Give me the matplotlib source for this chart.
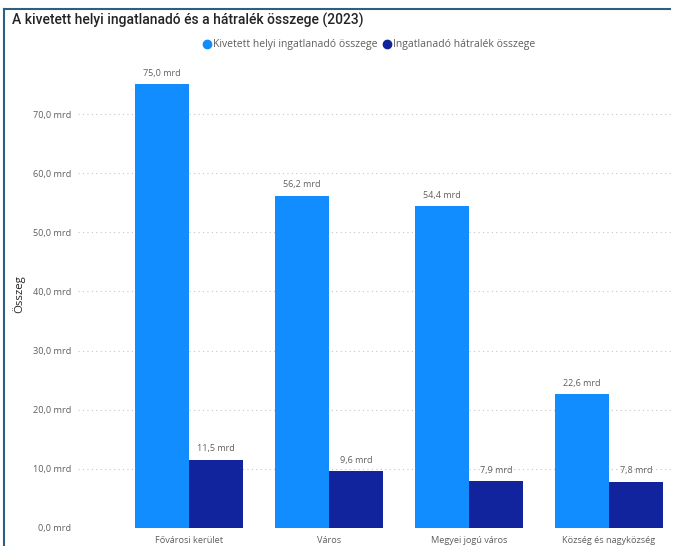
import matplotlib.pyplot as plt
import numpy as np
from matplotlib.lines import Line2D
from matplotlib.ticker import FuncFormatter

# data
categories = ["Fővárosi kerület", "Város", "Megyei jogú város", "Község és nagyközség"]
kivetett = [75.0, 56.2, 54.4, 22.6]
hatralek = [11.5, 9.6, 7.9, 7.8]
series_names = ["Kivetett helyi ingatlanadó összege", "Ingatlanadó hátralék összege"]
yticks = [0, 10, 20, 30, 40, 50, 60, 70]

c_light = "#118DFF"
c_dark = "#12239E"
gray = "#605E5C"

plt.rcParams["font.family"] = ["Open Sans", "DejaVu Sans"]

W, H = 673, 546
fig = plt.figure(figsize=(W / 100, H / 100), dpi=100)


def fx(px):
    return px / W


def fy(py):
    return 1 - py / H


# plot area: left at x=78, bottom at y=528, top at y=60
ax = fig.add_axes([fx(78), fy(528), 1 - fx(78), (528 - 60) / H])
x = np.arange(len(categories))
bw = 0.383
ax.bar(x - bw / 2, kivetett, bw, color=c_light, zorder=3)
ax.bar(x + bw / 2, hatralek, bw, color=c_dark, zorder=3)

fmt = lambda v: f"{v:.1f}".replace(".", ",") + " mrd"
for xi, v in zip(x - bw / 2, kivetett):
    ax.text(xi, v + 1.1, fmt(v), ha="center", va="bottom", fontsize=6.5, color=gray)
for xi, v in zip(x + bw / 2, hatralek):
    ax.text(xi, v + 1.1, fmt(v), ha="center", va="bottom", fontsize=6.5, color=gray)

ax.set_xlim(-0.793, 3.457)
ax.set_ylim(0, (528 - 60) / 59.14 * 10)
ax.set_yticks(yticks)
ax.yaxis.set_major_formatter(FuncFormatter(lambda v, p: fmt(v)))
ax.tick_params(axis="y", length=0, labelsize=6.6, labelcolor=gray, pad=5)
ax.set_xticks(x)
ax.set_xticklabels(categories)
ax.tick_params(axis="x", length=0, labelsize=6.6, labelcolor=gray, pad=5.5)
ax.grid(axis="y", color="#C8C6C4", linestyle=(0, (1, 3)), linewidth=0.8, zorder=0)
for s in ax.spines.values():
    s.set_visible(False)
ax.set_ylabel("Összeg", fontsize=8.2, color="#252423")
ax.yaxis.set_label_coords(-(78 - 25) / (W - 78), 0.5)

# title and legend
fig.text(fx(12), fy(20), "A kivetett helyi ingatlanadó és a hátralék összege (2023)",
         fontsize=10, color="#252423", va="center", ha="left", weight="medium",
         family=["Roboto", "DejaVu Sans"])
handles = [Line2D([], [], marker="o", linestyle="", color=c, markersize=6)
           for c in (c_light, c_dark)]
fig.legend(handles, series_names, loc="center", bbox_to_anchor=(fx(369), fy(45)),
           ncol=2, frameon=False, fontsize=7.5, labelcolor=gray, handletextpad=0.1,
           columnspacing=0.6, handlelength=0.8, borderaxespad=0)

# frame of the visual
fig.add_artist(Line2D([fx(4), fx(4)], [0, fy(9)], color="#2F5F7F", linewidth=1.5))
fig.add_artist(Line2D([fx(4), fx(670)], [fy(9), fy(9)], color="#2F5F7F", linewidth=1.5))

fig.savefig("out.png", dpi=100)
